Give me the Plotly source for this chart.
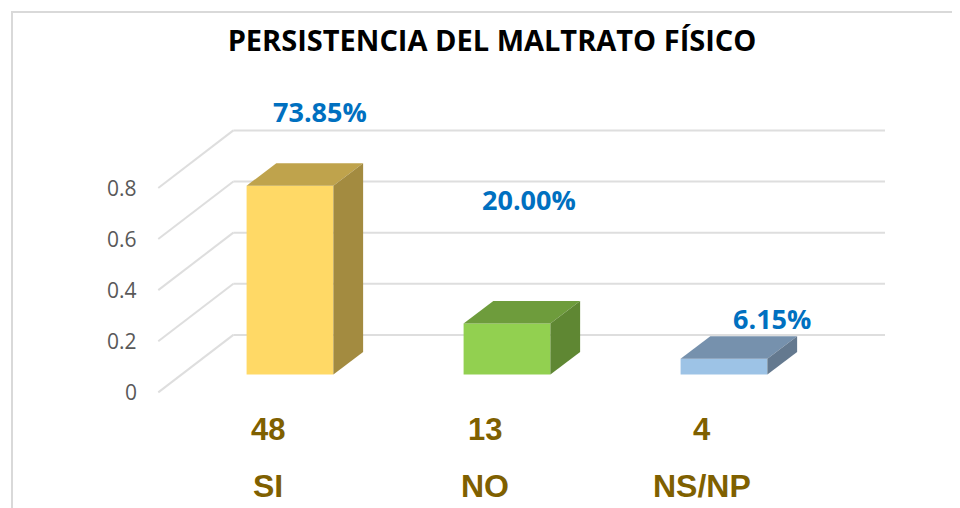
import plotly.graph_objects as go

categories = ["SI", "NO", "NS/NP"]
counts = [48, 13, 4]
shares = [0.7385, 0.20, 0.0615]
share_labels = ["73.85%", "20.00%", "6.15%"]
y_ticks = [0, 0.2, 0.4, 0.6, 0.8]

front_colors = ["#FFD966", "#92D050", "#9DC3E6"]
top_colors = ["#BFA34C", "#6E9C3C", "#7691AD"]
side_colors = ["#A38B40", "#5F8733", "#64798F"]

# fake 3d: depth of the boxes and of the walls, in axis units
bar_half = 0.2
box_dx, box_dy = 0.137, 0.088
wall_dx, wall_dy = 0.346, 0.225
floor_drop = 0.07
grid_color = "#DEDEDE"

# the page body adds 8px, so the figure is 952x500 and the ranges start after it
fig_w, fig_h, page_pad = 952, 500, 8

xs = list(range(len(categories)))
x_range = [-1.2995, 3.0876]
y_range = [-0.5223, 1.4339]
back_x0 = -0.261
back_x1 = 2.742

fig = go.Figure()

# front faces
fig.add_trace(go.Bar(x=xs, y=shares, width=bar_half * 2, marker_color=front_colors,
                     marker_line_width=0, showlegend=False, hoverinfo="skip"))

# top and side faces
for x, v, top, side in zip(xs, shares, top_colors, side_colors):
    l, r = x - bar_half, x + bar_half
    fig.add_trace(go.Scatter(x=[l, r, r + box_dx, l + box_dx, l],
                             y=[v, v, v + box_dy, v + box_dy, v],
                             mode="lines", fill="toself", fillcolor=top,
                             line=dict(width=0), showlegend=False, hoverinfo="skip"))
    fig.add_trace(go.Scatter(x=[r, r + box_dx, r + box_dx, r, r],
                             y=[0, box_dy, v + box_dy, v, 0],
                             mode="lines", fill="toself", fillcolor=side,
                             line=dict(width=0), showlegend=False, hoverinfo="skip"))

# wall and floor lines, under the bars
for t in y_ticks:
    fig.add_shape(type="line", xref="x", yref="y", layer="below",
                  x0=back_x0, x1=back_x1, y0=t + wall_dy - floor_drop, y1=t + wall_dy - floor_drop,
                  line=dict(color=grid_color, width=2))
    fig.add_shape(type="line", xref="x", yref="y", layer="below",
                  x0=back_x0 - wall_dx, x1=back_x0, y0=t - floor_drop, y1=t + wall_dy - floor_drop,
                  line=dict(color=grid_color, width=2))
    fig.add_annotation(x=back_x0 - wall_dx - 0.09, y=t - floor_drop, text=f"{t:g}", showarrow=False,
                       xanchor="right", font=dict(family="Open Sans", size=21, color="#595959"))

# percentages
label_x = [0.14, 1.1, 2.22]
label_y = [1.029, 0.685, 0.22]
for x, y, s in zip(label_x, label_y, share_labels):
    fig.add_annotation(x=x, y=y, text=s, showarrow=False,
                       font=dict(family="Open Sans", size=27, color="#0070C0", weight="bold"))

# counts and category names under the bars
for x, n, c in zip([-0.1, 0.9, 1.9], counts, categories):
    fig.add_annotation(x=x, y=-0.215, text=str(n), showarrow=False,
                       font=dict(family="Liberation Sans", size=31, color="#7F6000", weight="bold"))
    fig.add_annotation(x=x, y=-0.435, text=c, showarrow=False,
                       font=dict(family="Liberation Sans", size=32, color="#7F6000", weight="bold"))

# chart border: only the top and left edges show in the picture
fig.add_shape(type="rect", xref="paper", yref="paper",
              x0=(12 - page_pad) / fig_w, x1=1.1, y0=-0.1, y1=1 - (12 - page_pad) / fig_h,
              line=dict(color="#D9D9D9", width=2), layer="below")

fig.update_layout(
    width=fig_w, height=fig_h, margin=dict(l=0, r=0, t=0, b=0),
    paper_bgcolor="white", plot_bgcolor="white", showlegend=False,
    title=dict(text="<b>PERSISTENCIA DEL MALTRATO FÍSICO</b>",
               x=(492 - page_pad) / fig_w, y=1 - (41 - page_pad) / fig_h,
               xanchor="center", yanchor="middle",
               font=dict(family="Open Sans", size=29, color="black")),
    xaxis=dict(range=x_range, visible=False, fixedrange=True),
    yaxis=dict(range=y_range, visible=False, fixedrange=True),
)

fig.write_html("out.html")
